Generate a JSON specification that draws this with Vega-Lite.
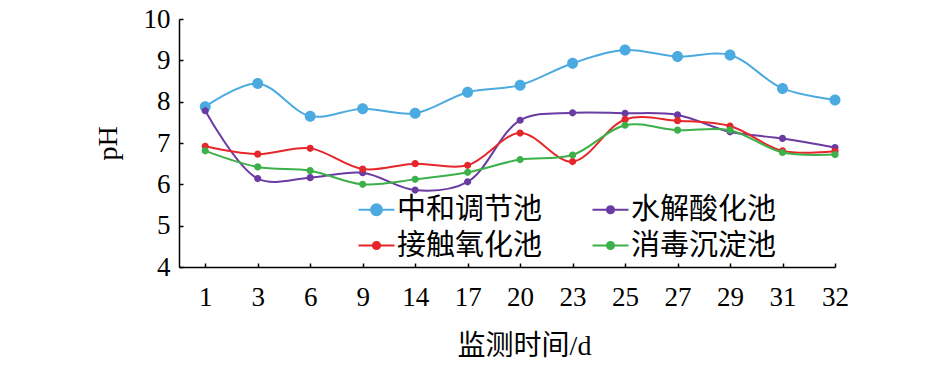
{
  "$schema": "https://vega.github.io/schema/vega-lite/v6.json",
  "width": 656,
  "height": 248,
  "autosize": "none",
  "padding": {"left": 179, "top": 19, "right": 110, "bottom": 99},
  "background": "white",
  "config": {
    "view": {"stroke": null},
    "axis": {
      "domainColor": "black",
      "domainWidth": 1.5,
      "tickColor": "black",
      "tickWidth": 1.5,
      "grid": false,
      "labelFont": "Liberation Serif",
      "labelFontSize": 27,
      "labelColor": "black",
      "titleFont": "Liberation Serif, Noto Sans CJK SC",
      "titleFontSize": 28,
      "titleFontWeight": "normal",
      "titleColor": "black"
    }
  },
  "data": {
    "values": [
      {"d": 1, "s": "中和调节池", "v": 7.88},
      {"d": 3, "s": "中和调节池", "v": 8.44},
      {"d": 6, "s": "中和调节池", "v": 7.65},
      {"d": 9, "s": "中和调节池", "v": 7.83},
      {"d": 14, "s": "中和调节池", "v": 7.72},
      {"d": 17, "s": "中和调节池", "v": 8.23},
      {"d": 20, "s": "中和调节池", "v": 8.40},
      {"d": 23, "s": "中和调节池", "v": 8.93},
      {"d": 25, "s": "中和调节池", "v": 9.25},
      {"d": 27, "s": "中和调节池", "v": 9.09},
      {"d": 29, "s": "中和调节池", "v": 9.13},
      {"d": 31, "s": "中和调节池", "v": 8.32},
      {"d": 32, "s": "中和调节池", "v": 8.04},
      {"d": 1, "s": "水解酸化池", "v": 7.78},
      {"d": 3, "s": "水解酸化池", "v": 6.14},
      {"d": 6, "s": "水解酸化池", "v": 6.16},
      {"d": 9, "s": "水解酸化池", "v": 6.28},
      {"d": 14, "s": "水解酸化池", "v": 5.86},
      {"d": 17, "s": "水解酸化池", "v": 6.06},
      {"d": 20, "s": "水解酸化池", "v": 7.55},
      {"d": 23, "s": "水解酸化池", "v": 7.73},
      {"d": 25, "s": "水解酸化池", "v": 7.72},
      {"d": 27, "s": "水解酸化池", "v": 7.68},
      {"d": 29, "s": "水解酸化池", "v": 7.27},
      {"d": 31, "s": "水解酸化池", "v": 7.11},
      {"d": 32, "s": "水解酸化池", "v": 6.89},
      {"d": 1, "s": "接触氧化池", "v": 6.92},
      {"d": 3, "s": "接触氧化池", "v": 6.73},
      {"d": 6, "s": "接触氧化池", "v": 6.87},
      {"d": 9, "s": "接触氧化池", "v": 6.37},
      {"d": 14, "s": "接触氧化池", "v": 6.50},
      {"d": 17, "s": "接触氧化池", "v": 6.46},
      {"d": 20, "s": "接触氧化池", "v": 7.24},
      {"d": 23, "s": "接触氧化池", "v": 6.55},
      {"d": 25, "s": "接触氧化池", "v": 7.57},
      {"d": 27, "s": "接触氧化池", "v": 7.54},
      {"d": 29, "s": "接触氧化池", "v": 7.41},
      {"d": 31, "s": "接触氧化池", "v": 6.81},
      {"d": 32, "s": "接触氧化池", "v": 6.80},
      {"d": 1, "s": "消毒沉淀池", "v": 6.81},
      {"d": 3, "s": "消毒沉淀池", "v": 6.42},
      {"d": 6, "s": "消毒沉淀池", "v": 6.33},
      {"d": 9, "s": "消毒沉淀池", "v": 6.00},
      {"d": 14, "s": "消毒沉淀池", "v": 6.12},
      {"d": 17, "s": "消毒沉淀池", "v": 6.29},
      {"d": 20, "s": "消毒沉淀池", "v": 6.60},
      {"d": 23, "s": "消毒沉淀池", "v": 6.71},
      {"d": 25, "s": "消毒沉淀池", "v": 7.43},
      {"d": 27, "s": "消毒沉淀池", "v": 7.31},
      {"d": 29, "s": "消毒沉淀池", "v": 7.31},
      {"d": 31, "s": "消毒沉淀池", "v": 6.77},
      {"d": 32, "s": "消毒沉淀池", "v": 6.72}
    ]
  },
  "encoding": {
    "x": {
      "field": "d",
      "type": "ordinal",
      "scale": {"type": "point", "domain": [1, 3, 6, 9, 14, 17, 20, 23, 25, 27, 29, 31, 32], "padding": 0.25, "align": 1},
      "axis": {"labelAngle": 0, "tickSize": -4, "labelPadding": 21, "title": "监测时间/d", "titlePadding": 22, "titleX": 345}
    },
    "y": {
      "field": "v",
      "type": "quantitative",
      "scale": {"domain": [4, 10], "nice": false, "zero": false},
      "axis": {"values": [4, 5, 6, 7, 8, 9, 10], "tickSize": -4, "labelPadding": 13, "title": "pH", "titlePadding": 21}
    },
    "color": {
      "field": "s",
      "type": "nominal",
      "scale": {
        "domain": ["中和调节池", "水解酸化池", "接触氧化池", "消毒沉淀池"],
        "range": ["#4BAAE0", "#6A3BA2", "#E5262B", "#3DB04A"]
      },
      "legend": {
        "title": null,
        "orient": "none",
        "direction": "horizontal",
        "legendX": 183,
        "legendY": 176,
        "columns": 2,
        "columnPadding": 45,
        "rowPadding": 6,
        "padding": 0,
        "symbolSize": 400,
        "labelOffset": 6,
        "labelFont": "Liberation Serif, Noto Sans CJK SC",
        "labelFontSize": 29,
        "labelColor": "black",
        "labelLimit": 300,
        "encode": {
          "symbols": {
            "update": {
              "stroke": {"scale": "color", "field": "value"},
              "strokeWidth": {"value": 2}
            }
          }
        }
      }
    }
  },
  "layer": [
    {
      "mark": {"type": "line", "interpolate": "catmull-rom", "strokeWidth": 2}
    },
    {
      "mark": {"type": "point", "filled": true, "opacity": 1, "strokeWidth": 0, "size": 400},
      "encoding": {
        "shape": {
          "field": "s",
          "type": "nominal",
          "scale": {
            "domain": ["中和调节池", "水解酸化池", "接触氧化池", "消毒沉淀池"],
            "range": [
              "M-1.8,0H1.8M0.55,0A0.55,0.55,0,1,1,-0.55,0A0.55,0.55,0,1,1,0.55,0Z",
              "M-1.8,0H1.8M0.36,0A0.36,0.36,0,1,1,-0.36,0A0.36,0.36,0,1,1,0.36,0Z",
              "M-1.8,0H1.8M0.36,0A0.36,0.36,0,1,1,-0.36,0A0.36,0.36,0,1,1,0.36,0Z",
              "M-1.8,0H1.8M0.36,0A0.36,0.36,0,1,1,-0.36,0A0.36,0.36,0,1,1,0.36,0Z"
            ]
          }
        }
      }
    }
  ]
}
